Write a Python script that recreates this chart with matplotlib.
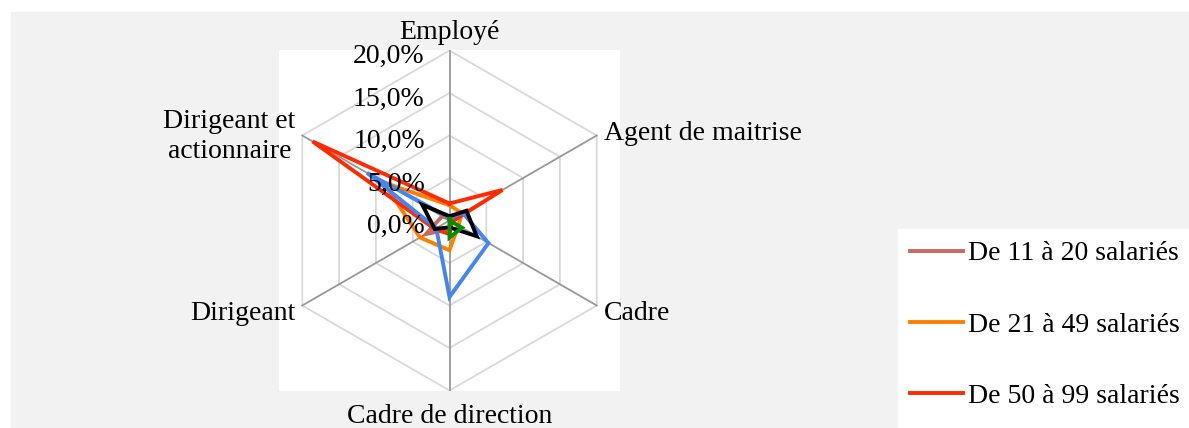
import numpy as np
import matplotlib.pyplot as plt
from matplotlib.patches import Rectangle
from matplotlib.lines import Line2D

plt.rcParams['font.family'] = ['Liberation Serif', 'DejaVu Serif']

categories = ['Employé', 'Agent de maitrise', 'Cadre', 'Cadre de direction',
              'Dirigeant', 'Dirigeant et\nactionnaire']
ticks = [0, 5, 10, 15, 20]
tick_labels = ['0,0%', '5,0%', '10,0%', '15,0%', '20,0%']

series_names = ['De 11 à 20 salariés', 'De 21 à 49 salariés', 'De 50 à 99 salariés',
                'De 100 à 249 salariés', 'De 250 à 499 salariés', '500 salariés et plus']
s_11_20 = [0.2, 0.3, 0.3, 1.0, 3.2, 1.0]
s_21_49 = [1.8, 1.7, 1.2, 3.5, 4.0, 9.0]
s_50_99 = [2.0, 7.2, 0.3, 1.6, 2.0, 18.6]
s_100_249 = [0.3, 1.8, 5.3, 9.0, 1.8, 11.2]
s_250_499 = [0.5, 2.3, 3.7, 0.8, 2.0, 3.7]
s_500 = [0.2, 0.0, 1.7, 2.0, 0.0, 0.0]
values = [s_11_20, s_21_49, s_50_99, s_100_249, s_250_499, s_500]
colors = ['#c8685f', '#ff8000', '#ff2a00', '#4385f4', '#000000', '#009000']

W, H = 1189, 428
fig = plt.figure(figsize=(W / 100, H / 100), dpi=100, facecolor='white')

# grey chart area + white legend box (behind the axes)
fig.patches.append(Rectangle((11 / W, 0), (W - 11) / W, (H - 12) / H,
                             transform=fig.transFigure, color='#f2f2f2', zorder=-10))
fig.patches.append(Rectangle((898 / W, 0), (W - 898) / W, (H - 229) / H,
                             transform=fig.transFigure, color='white', zorder=-9))

ax = fig.add_axes([279 / W, (H - 391) / H, 341 / W, 341 / H])
lim = 20 * 170.5 / 170
ax.set_xlim(-lim, lim)
ax.set_ylim(-lim, lim)
ax.set_aspect('equal')
ax.set_xticks([])
ax.set_yticks([])
for sp in ax.spines.values():
    sp.set_visible(False)
ax.set_facecolor('white')

n = len(categories)
ang = np.deg2rad(90 - 60 * np.arange(n))
ca, sa = np.cos(ang), np.sin(ang)


def closed(v):
    x, y = v * ca, v * sa
    return np.append(x, x[0]), np.append(y, y[0])


# hexagon rings
for t in ticks[1:]:
    ax.plot(*closed(np.full(n, t)), color='#d9d9d9', lw=1.3, zorder=1)
# spokes
for i in range(n):
    ax.plot([0, ticks[-1] * ca[i]], [0, ticks[-1] * sa[i]], color='#999999', lw=1.3, zorder=1)

# series
for name, vals, col in zip(series_names, values, colors):
    ax.plot(*closed(np.array(vals)), color=col, lw=2.8, label=name, zorder=3,
            solid_joinstyle='miter')

fs = 20
# radial tick labels
for t, lab in zip(ticks, tick_labels):
    ax.text(-2.9, t - 0.7, lab, ha='right', va='center', fontsize=fs, zorder=4)

# category labels
ax.text(0, 20.6, categories[0], ha='center', va='bottom', fontsize=fs)
ax.text(18.2, 10.2, categories[1], ha='left', va='center', fontsize=fs)
ax.text(18.2, -11.0, categories[2], ha='left', va='center', fontsize=fs)
ax.text(0, -21.6, categories[3], ha='center', va='top', fontsize=fs)
ax.text(-18.1, -11.0, categories[4], ha='right', va='center', fontsize=fs)
ax.text(-18.1, 9.9, categories[5], ha='right', va='center', ma='center', fontsize=fs,
        linespacing=1.3)

handles = [Line2D([], [], color=c, lw=2.8) for c in colors[:3]]
fig.legend(handles, series_names[:3], loc='upper left',
           bbox_to_anchor=(898 / W, (H - 229) / H), frameon=False, fontsize=fs,
           handlelength=1.9, handletextpad=0.18, labelspacing=1.65,
           borderaxespad=0, borderpad=0.43)

fig.savefig('out.png', dpi=100, facecolor='white')
